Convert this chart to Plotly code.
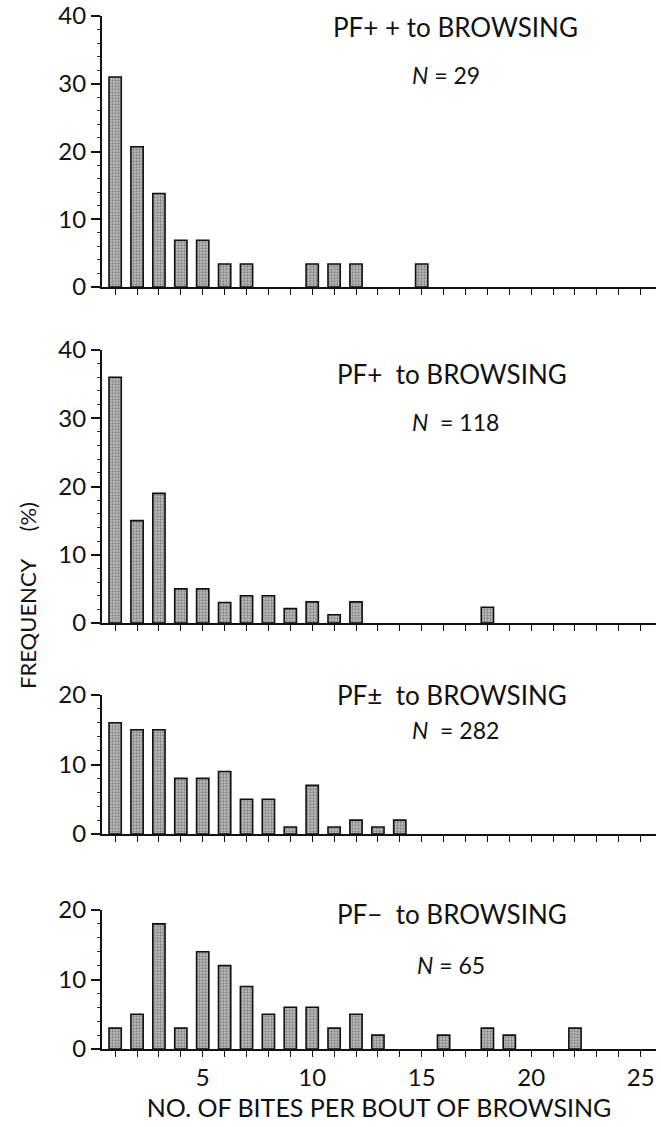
import plotly.graph_objects as go

W, H = 661, 1127

bites = list(range(1, 26))

pf_pp = [31, 20.7, 13.8, 6.9, 6.9, 3.4, 3.4, 0, 0, 3.4, 3.4, 3.4, 0, 0, 3.4,
         0, 0, 0, 0, 0, 0, 0, 0, 0, 0]
pf_p = [36, 15, 19, 5, 5, 3, 4, 4, 2.1, 3.1, 1.2, 3.1, 0, 0, 0, 0, 0, 2.3,
        0, 0, 0, 0, 0, 0, 0]
pf_pm = [16, 15, 15, 8, 8, 9, 5, 5, 1, 7, 1, 2, 1, 2, 0, 0, 0, 0, 0, 0, 0,
         0, 0, 0, 0]
pf_m = [3, 5, 18, 3, 14, 12, 9, 5, 6, 6, 3, 5, 2, 0, 0, 2, 0, 3, 2, 0, 0, 3,
        0, 0, 0]

titles = ["PF+ + to BROWSING", "PF+  to BROWSING", "PF±  to BROWSING",
          "PF\u2212  to BROWSING"]
n_labels = ["<i>N</i> = 29", "<i>N</i>  = 118", "<i>N</i>  = 282",
            "<i>N</i> = 65"]
y_max = [40, 40, 20, 20]
x_ticks = [5, 10, 15, 20, 25]
series = [pf_pp, pf_p, pf_pm, pf_m]

# pixel geometry (top = y_max, bottom = 0)
panels_px = [(16, 287), (350, 623), (695, 834), (910, 1049)]
title_px = [(331, 27), (335, 374), (335, 695), (335, 914)]
n_px = [(410, 75), (410, 422), (410, 730), (415, 965)]

FONT = "Lato, 'Open Sans', sans-serif"

fig = go.Figure()
x_dom = [102 / W, 656 / W]

for i, ys in enumerate(series):
    ax = "" if i == 0 else str(i + 1)
    ys_plot = [v if v > 0 else None for v in ys]
    fig.add_trace(go.Bar(
        x=bites, y=ys_plot, width=0.56,
        xaxis="x" + ax, yaxis="y" + ax,
        marker=dict(color="#a8a8a8",
                    line=dict(color="#111", width=1.6),
                    pattern=dict(shape=".", fgcolor="#4a4a4a", bgcolor="#bdbdbd",
                                 size=3, solidity=0.45)),
        showlegend=False, hoverinfo="skip"))
    top, bot = panels_px[i]
    dom = [1 - bot / H, 1 - top / H]
    last = (i == 3)
    fig.layout["xaxis" + ax] = dict(
        domain=x_dom, range=[0.4, 25.7], anchor="y" + ax, automargin=False,
        showline=True, linecolor="#111", linewidth=2,
        ticks="outside", ticklen=6, tickwidth=1.3, tickcolor="#111",
        tickvals=x_ticks, showticklabels=last, showgrid=False, zeroline=False,
        minor=dict(tickvals=bites, ticks="outside", ticklen=6, tickwidth=1.3,
                   tickcolor="#111", showgrid=False),
        tickfont=dict(family=FONT, size=24, color="#111"),
        title=dict(text="NO. OF BITES PER BOUT OF BROWSING" if last else "",
                   font=dict(family=FONT, size=25, color="#111"), standoff=10),
    )
    fig.layout["yaxis" + ax] = dict(
        domain=dom, range=[0, y_max[i]], anchor="x" + ax, automargin=False,
        showline=True, linecolor="#111", linewidth=2,
        ticks="outside", ticklen=9, tickwidth=1.5, tickcolor="#111",
        dtick=10, showgrid=False, zeroline=False,
        minor=dict(dtick=2, ticks="outside", ticklen=3, tickwidth=1,
                   tickcolor="#333", showgrid=False),
        tickfont=dict(family=FONT, size=24, color="#111"),
    )
    tx, ty = title_px[i]
    fig.add_annotation(text=titles[i], x=tx / W, y=1 - ty / H, xref="paper",
                       yref="paper", xanchor="left", yanchor="middle",
                       showarrow=False,
                       font=dict(family=FONT, size=26, color="#111"))
    nx, ny = n_px[i]
    fig.add_annotation(text=n_labels[i], x=nx / W, y=1 - ny / H, xref="paper",
                       yref="paper", xanchor="left", yanchor="middle",
                       showarrow=False,
                       font=dict(family=FONT, size=23, color="#111"))

fig.add_annotation(text="FREQUENCY\u00a0\u00a0\u00a0\u00a0\u00a0(%)", x=27 / W,
                   y=1 - 596 / H, xref="paper", yref="paper",
                   xanchor="center", yanchor="middle", textangle=-90,
                   showarrow=False,
                   font=dict(family=FONT, size=22, color="#111"))

fig.update_layout(width=W, height=H, margin=dict(l=0, r=0, t=0, b=0),
                  paper_bgcolor="white", plot_bgcolor="white",
                  bargap=0.4)

fig.write_html("out.html", config={"displayModeBar": False},
               post_script="document.body.style.margin='0';"
                           "document.body.style.overflow='hidden';")
